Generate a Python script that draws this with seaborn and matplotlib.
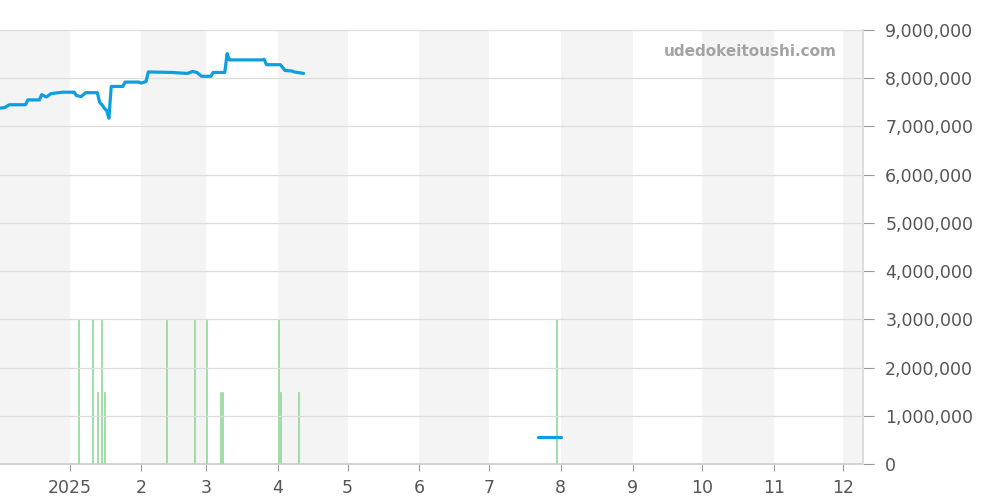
import pandas as pd
import numpy as np
import matplotlib.pyplot as plt
import matplotlib.ticker as mticker
import seaborn as sns

# price history (JPY)
price_dates = [
    "2024-12-02", "2024-12-04", "2024-12-06", "2024-12-13", "2024-12-14", "2024-12-19",
    "2024-12-20", "2024-12-22", "2024-12-24", "2024-12-29", "2025-01-03", "2025-01-04",
    "2025-01-06", "2025-01-08", "2025-01-13", "2025-01-14", "2025-01-15", "2025-01-16",
    "2025-01-17", "2025-01-18", "2025-01-19", "2025-01-24", "2025-01-25", "2025-01-31",
    "2025-02-01", "2025-02-03", "2025-02-04", "2025-02-14", "2025-02-17", "2025-02-21",
    "2025-02-23", "2025-02-25", "2025-02-27", "2025-03-03", "2025-03-04", "2025-03-09",
    "2025-03-10", "2025-03-11", "2025-03-25", "2025-03-26", "2025-03-27", "2025-04-02",
    "2025-04-04", "2025-04-07", "2025-04-08", "2025-04-12",
    "2025-07-22", "2025-08-01",
]
price_values = [
    7380000, 7390000, 7450000, 7450000, 7550000, 7550000,
    7660000, 7610000, 7680000, 7710000, 7710000, 7640000,
    7620000, 7700000, 7700000, 7500000, 7450000, 7380000,
    7330000, 7170000, 7830000, 7830000, 7920000, 7920000,
    7900000, 7930000, 8130000, 8120000, 8110000, 8100000,
    8140000, 8120000, 8040000, 8040000, 8120000, 8120000,
    8510000, 8380000, 8380000, 8390000, 8280000, 8280000,
    8160000, 8150000, 8130000, 8100000,
    550000, 550000,
]
price_segment = [0] * 46 + [1] * 2

# sales volume
sale_dates = [
    "2025-01-05", "2025-01-11", "2025-01-13", "2025-01-15", "2025-01-16", "2025-02-12",
    "2025-02-24", "2025-03-01", "2025-03-07", "2025-03-08", "2025-04-01", "2025-04-02",
    "2025-04-10", "2025-07-30",
]
sale_counts = [2, 2, 1, 2, 1, 2, 2, 2, 1, 1, 2, 1, 1, 2]

tick_months = ["2025-01-01", "2025-02-01", "2025-03-01", "2025-04-01", "2025-05-01",
               "2025-06-01", "2025-07-01", "2025-08-01", "2025-09-01", "2025-10-01",
               "2025-11-01", "2025-12-01"]
tick_labels = ["2025", "2", "3", "4", "5", "6", "7", "8", "9", "10", "11", "12"]

price_df = pd.DataFrame({
    "date": pd.to_datetime(price_dates),
    "price": price_values,
    "segment": price_segment,
})

days = pd.date_range("2024-12-02", "2025-12-06", freq="D")
vol = pd.Series(0, index=days)
vol[pd.to_datetime(sale_dates)] = sale_counts

x_start = pd.Timestamp("2024-12-02")
x_end = pd.Timestamp("2025-12-09 10:00")

sns.set_theme(style="white")
plt.rcParams["font.family"] = ["DejaVu Sans"]

fig = plt.figure(figsize=(10, 5), dpi=100)
ax2 = fig.add_axes([0.0, 0.072, 0.863, 0.868])
ax = ax2.twinx()
ax.set_zorder(ax2.get_zorder() + 1)
ax.patch.set_visible(False)

# alternating month bands
month_starts = pd.date_range("2024-12-01", "2026-01-01", freq="MS")
for i in range(len(month_starts) - 1):
    if i % 2 == 0:
        ax2.axvspan(month_starts[i], month_starts[i + 1], color="#f4f4f4", lw=0, zorder=0)

# volume bars
ax2.bar(vol.index, vol.values, width=0.45, color="#93d99b", edgecolor="#93d99b",
        linewidth=0.5, zorder=3)
ax2.set_ylim(0, 6)
ax2.set_yticks([])
ax2.set_xlim(x_start, x_end)
ax2.set_xticks(pd.to_datetime(tick_months))
ax2.set_xticklabels(tick_labels)

# price line
sns.lineplot(data=price_df, x="date", y="price", units="segment", estimator=None,
             color="#0a9fe0", linewidth=2.3, ax=ax, zorder=5)
ax.set_xlim(x_start, x_end)
ax.set_ylim(0, 9000000)
ax.set_yticks(np.arange(0, 9000001, 1000000))
ax.yaxis.set_major_formatter(mticker.FuncFormatter(lambda v, p: f"{int(v):,}"))
ax.yaxis.tick_right()
ax.grid(axis="y", color="#dddddd", linewidth=0.9)
ax.set_xlabel("")
ax.set_ylabel("")
ax.xaxis.set_visible(False)

for a in (ax, ax2):
    for s in ["top", "left"]:
        a.spines[s].set_visible(False)
    a.spines["right"].set_color("#dddddd")
ax.spines["bottom"].set_visible(False)
ax2.spines["bottom"].set_color("#cccccc")
ax2.spines["bottom"].set_zorder(1)

ax.tick_params(axis="y", colors="#555555", labelsize=12.5, length=8, width=0.8,
               direction="out", pad=8, right=True, labelright=True)
ax.tick_params(axis="y", which="major", color="#999999")
ax2.tick_params(axis="x", colors="#555555", labelsize=12.5, length=5, width=0.8,
                direction="out", pad=6, bottom=True)
ax2.tick_params(axis="x", color="#999999")

ax.text(0.97, 0.95, "udedokeitoushi.com", transform=ax.transAxes, ha="right", va="center",
        fontsize=11, fontweight="bold", color="#a3a3a3", zorder=6)

fig.savefig("out.png", dpi=100)
